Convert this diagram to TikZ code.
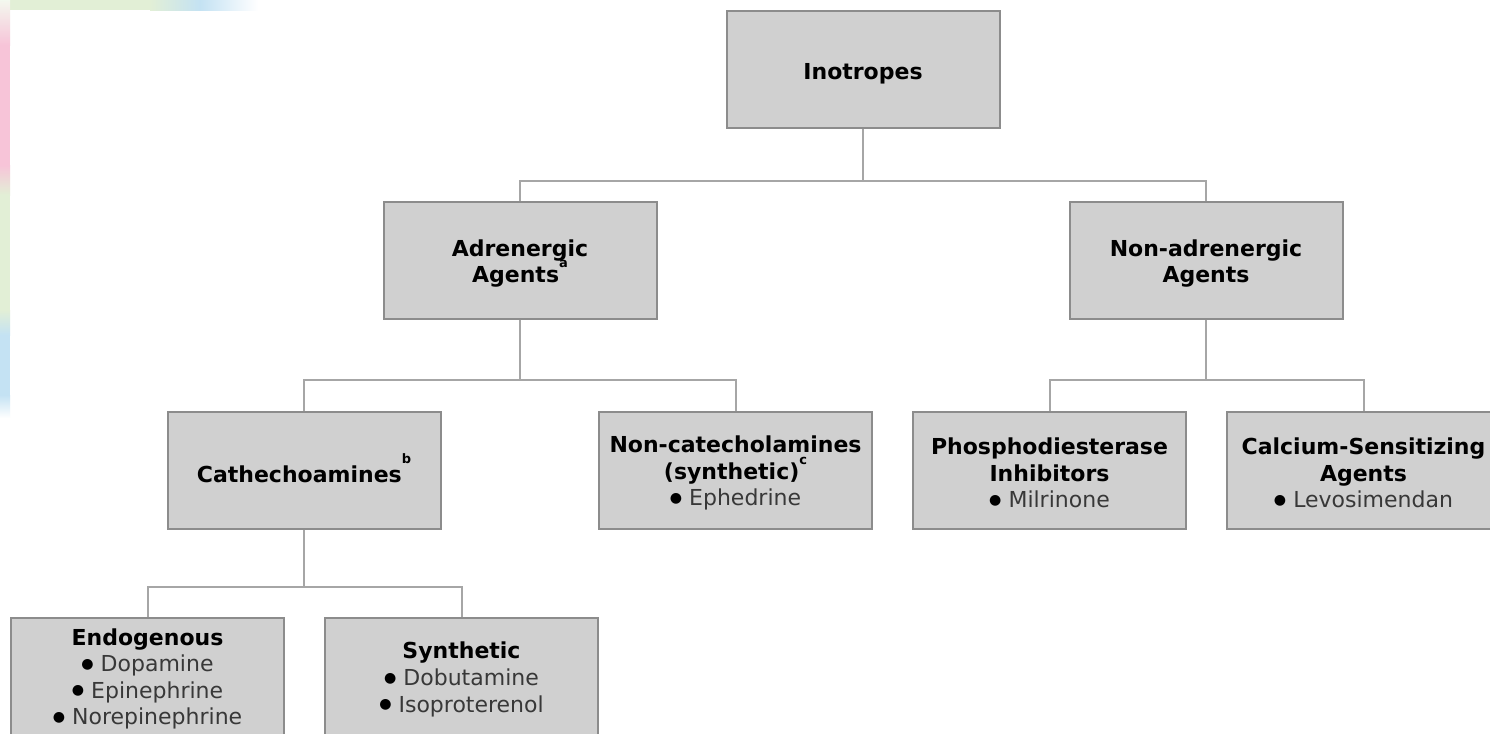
\documentclass[tikz,border=0pt]{standalone}
\usepackage{fontspec}
\usepackage{graphicx}
\setmainfont{DejaVu Sans}
\definecolor{boxfill}{HTML}{D0D0D0}
\definecolor{boxline}{HTML}{8C8C8C}
\definecolor{connline}{HTML}{A6A6A6}
\definecolor{itemgray}{HTML}{383838}
\definecolor{edgegreen}{HTML}{E2EFD6}
\definecolor{edgepink}{HTML}{F7C4D8}
\definecolor{edgeblue}{HTML}{C4E2F3}
% raised footnote mark after a heading (kept out of the line height)
\newcommand\supmark[2][8pt]{\smash{\raisebox{#1}{\fontsize{6.5}{7}\selectfont\bfseries #2}}}
% one bulleted drug name
\newcommand\drug[1]{\raisebox{0.16em}{\scalebox{0.64}{●}}~\textcolor{itemgray}{#1}}
\begin{document}
\begin{tikzpicture}[x=0.5pt,y=-0.5pt,
  box/.style={draw=boxline, line width=1pt, fill=boxfill,
    minimum width=136.5pt, minimum height=58.5pt, inner sep=0pt},
  boxtext/.style={align=center, inner sep=0pt,
    font=\fontsize{11}{13.3}\selectfont},
  conn/.style={draw=connline, line width=1pt}]
\clip (0,0) rectangle (1490,734);
\fill[white] (0,0) rectangle (1490,734);

% coloured page edge, top left
\fill[edgegreen] (0,0) rectangle (150,10);
\shade[left color=edgegreen, right color=edgeblue] (150,0) rectangle (200,10);
\shade[left color=edgeblue, right color=white] (200,0) rectangle (258,10);
\shade[top color=edgegreen!40!white, bottom color=edgepink] (0,0) rectangle (10,45);
\fill[edgepink] (0,45) rectangle (10,165);
\shade[top color=edgepink, bottom color=edgegreen] (0,165) rectangle (10,195);
\fill[edgegreen] (0,195) rectangle (10,310);
\shade[top color=edgegreen, bottom color=edgeblue] (0,310) rectangle (10,335);
\fill[edgeblue] (0,335) rectangle (10,395);
\shade[top color=edgeblue, bottom color=white] (0,395) rectangle (10,418);

% boxes
\node[box] (ino)  at (863,69.5)   {};
\node[box] (adr)  at (520,260)    {};
\node[box] (nadr) at (1206,260)   {};
\node[box] (cat)  at (304,470)    {};
\node[box] (ncat) at (735.5,470)  {};
\node[box] (pde)  at (1049.5,470) {};
\node[box] (cal)  at (1363.5,470) {};
\node[box] (endo) at (147.5,676.5){};
\node[box] (syn)  at (461.5,676.5){};

% box texts
\node[boxtext] (ino-t)  at ([yshift=-2pt]ino.center)  {\textbf{Inotropes}};
\node[boxtext] (adr-t)  at ([yshift=-1.75pt]adr.center)  {\textbf{Adrenergic}\\\textbf{Agents}\supmark[7.5pt]{a}};
\node[boxtext] (nadr-t) at ([yshift=-1.75pt]nadr.center) {\textbf{Non-adrenergic}\\\textbf{Agents}};
\node[boxtext] (cat-t)  at ([yshift=-2pt]cat.center)  {\textbf{Cathechoamines}\supmark[9.5pt]{b}};
\node[boxtext] (ncat-t) at ([yshift=-1.5pt]ncat.center) {\textbf{Non-catecholamines}\\\textbf{(synthetic)}\supmark[7.5pt]{c}\\\drug{Ephedrine}};
\node[boxtext] (pde-t)  at ([yshift=-1.5pt]pde.center)  {\textbf{Phosphodiesterase}\\\textbf{Inhibitors}\\\drug{Milrinone}};
\node[boxtext] (cal-t)  at ([yshift=-1.5pt]cal.center)  {\textbf{Calcium-Sensitizing}\\\textbf{Agents}\\\drug{Levosimendan}};
\node[boxtext] (endo-t) at ([yshift=-1.25pt]endo.center) {\textbf{Endogenous}\\\drug{Dopamine}\\\drug{Epinephrine}\\\drug{Norepinephrine}};
\node[boxtext] (syn-t)  at ([yshift=-1.5pt]syn.center)  {\textbf{Synthetic}\\\drug{Dobutamine}\\\drug{Isoproterenol}};

% bus junctions
\coordinate (j1) at (863,181);
\coordinate (j2) at (520,380);
\coordinate (j3) at (1206,380);
\coordinate (j4) at (304,587);

% connectors
\draw[conn] (ino.south) -- (j1);
\draw[conn] (adr.north) |- (j1) -| (nadr.north);
\draw[conn] (adr.south) -- (j2);
\draw[conn] (cat.north) |- (j2) -| (ncat.north);
\draw[conn] (nadr.south) -- (j3);
\draw[conn] (pde.north) |- (j3) -| (cal.north);
\draw[conn] (cat.south) -- (j4);
\draw[conn] (endo.north) |- (j4) -| (syn.north);
\end{tikzpicture}
\end{document}
